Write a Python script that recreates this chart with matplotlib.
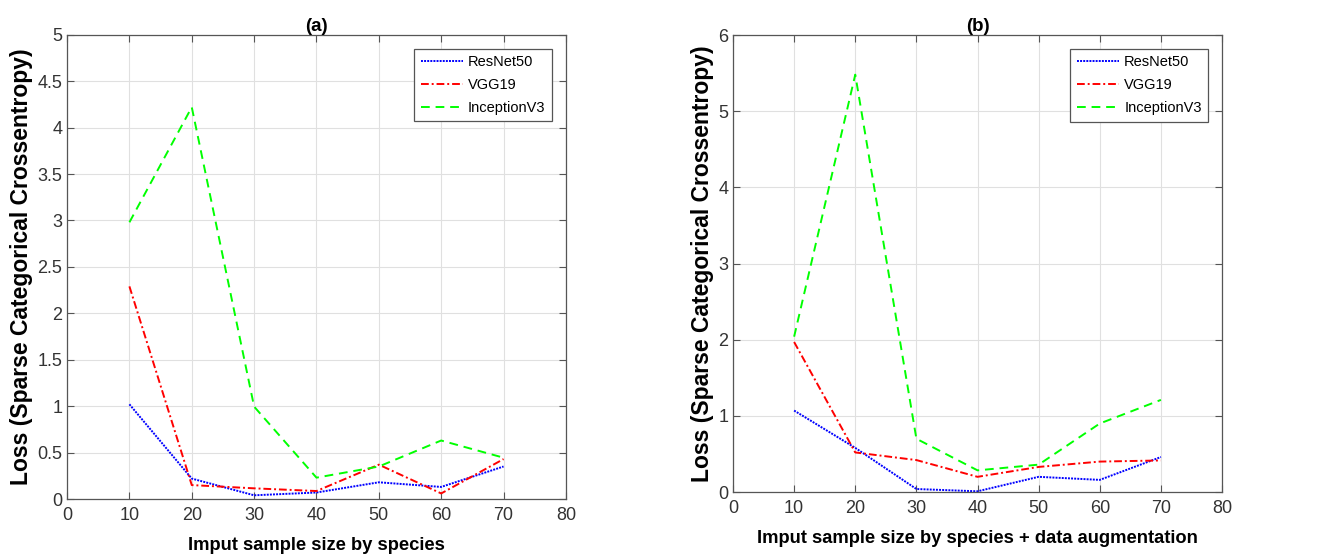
import matplotlib.pyplot as plt
import numpy as np

plt.rcParams['font.family'] = ['Liberation Sans', 'DejaVu Sans']

x = [10, 20, 30, 40, 50, 60, 70]

# panel (a)
resnet_a = [1.02, 0.22, 0.04, 0.07, 0.18, 0.13, 0.35]
vgg_a = [2.29, 0.15, 0.115, 0.086, 0.37, 0.06, 0.43]
incep_a = [2.98, 4.22, 0.995, 0.23, 0.35, 0.63, 0.445]

# panel (b)
resnet_b = [1.07, 0.58, 0.04, 0.01, 0.20, 0.16, 0.46]
vgg_b = [1.97, 0.52, 0.42, 0.20, 0.33, 0.40, 0.415]
incep_b = [2.04, 5.48, 0.70, 0.285, 0.36, 0.90, 1.21]

names = ['ResNet50', 'VGG19', 'InceptionV3']
xlab_a = 'Imput sample size by species'
xlab_b = 'Imput sample size by species + data augmentation'
ylab = 'Loss (Sparse Categorical Crossentropy)'

fig = plt.figure(figsize=(13.41, 5.56), dpi=100)
ax1 = fig.add_axes([0.050, 0.1025, 0.372, 0.835])
ax2 = fig.add_axes([0.5466, 0.115, 0.3647, 0.822])


def draw(ax, r, v, i, xlab, title, ymax, yticks):
    ax.plot(x, r, color='#0000ff', linestyle=(0, (1, 0.6)), lw=1.4, label=names[0])
    ax.plot(x, v, color='#ff0000', linestyle=(0, (4, 1.5, 1, 1.5)), lw=1.4, label=names[1])
    ax.plot(x, i, color='#00ff00', linestyle=(0, (4.5, 3)), lw=1.4, label=names[2])
    ax.set_xlim(0, 80)
    ax.set_ylim(0, ymax)
    ax.set_xticks(range(0, 81, 10))
    ax.set_yticks(yticks)
    ax.set_yticklabels(['%g' % t for t in yticks])
    ax.grid(True, color='#e0e0e0', lw=0.8)
    ax.set_axisbelow(True)
    ax.tick_params(direction='in', top=True, right=True, labelsize=13,
                   color='#555555', labelcolor='#333333', length=5)
    ax.tick_params(axis='x', pad=6)
    for s in ax.spines.values():
        s.set_color('#555555')
        s.set_linewidth(0.9)
    ax.set_xlabel(xlab, fontsize=13.2, fontweight='bold', labelpad=9)
    ax.set_ylabel(ylab, fontsize=16.5, fontweight='bold', labelpad=3)
    ax.set_title(title, fontsize=13.5, fontweight='bold', pad=3)
    leg = ax.legend(loc='upper right', fontsize=10.5, fancybox=False,
                    framealpha=1, edgecolor='#555555', handlelength=2.9,
                    handletextpad=0.35, borderaxespad=0.95, labelspacing=0.6,
                    borderpad=0.45)
    leg.get_frame().set_linewidth(0.9)


draw(ax1, resnet_a, vgg_a, incep_a, xlab_a, '(a)', 5, np.arange(0, 5.01, 0.5))
draw(ax2, resnet_b, vgg_b, incep_b, xlab_b, '(b)', 6, np.arange(0, 7, 1))

plt.savefig('out.png', dpi=100)
